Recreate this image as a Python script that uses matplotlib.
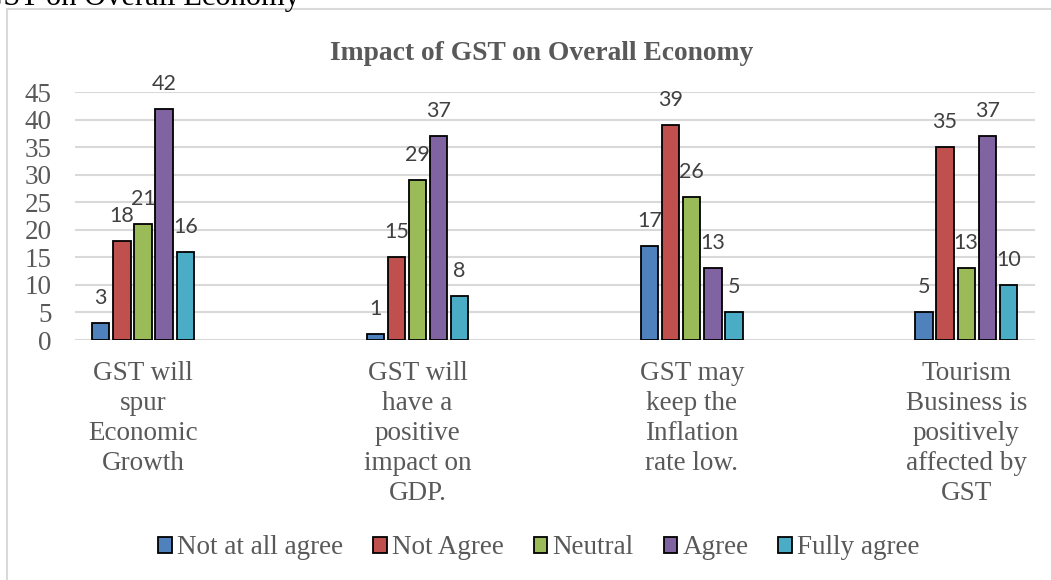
import numpy as np
import matplotlib
matplotlib.use("Agg")
import matplotlib.pyplot as plt
from matplotlib.patches import Patch, Rectangle

# ---------------- data ----------------
categories = ["GST will\nspur\nEconomic\nGrowth",
              "GST will\nhave a\npositive\nimpact on\nGDP.",
              "GST may\nkeep the\nInflation\nrate low.",
              "Tourism\nBusiness is\npositively\naffected by\nGST"]
series_names = ["Not at all agree", "Not Agree", "Neutral", "Agree", "Fully agree"]
not_at_all = [3, 1, 17, 5]
not_agree = [18, 15, 39, 35]
neutral = [21, 29, 26, 13]
agree = [42, 37, 13, 37]
fully_agree = [16, 8, 5, 10]
yticks = [0, 5, 10, 15, 20, 25, 30, 35, 40, 45]

series = [not_at_all, not_agree, neutral, agree, fully_agree]
colors = ["#4F81BD", "#C0504D", "#9BBB59", "#8064A2", "#4BACC6"]

W, H = 1051, 580
gray = "#595959"
serif = "Liberation Serif"
fs = 19.5

fig = plt.figure(figsize=(W / 100, H / 100), dpi=100)

# chart area frame (only left/top visible in the crop)
fig.patches.append(Rectangle((7 / W, -0.1), 1.2, (H - 9) / H + 0.1,
                             transform=fig.transFigure, fill=False,
                             edgecolor="#D9D9D9", linewidth=1.5))

# caption from the page, cut off at the top
fig.text(300 / W, 1 - 5 / H, "Impact of GST on Overall Economy", ha="right",
         va="baseline", fontsize=22, family=serif, color="black")

ax = fig.add_axes([75 / W, (H - 340) / H, (1035 - 75) / W, (340 - 92) / H])

x = np.arange(len(categories))
pitch = 0.0769
width = 0.063
for i, (vals, name, c) in enumerate(zip(series, series_names, colors)):
    pos = x + (i - 2) * pitch
    ax.bar(pos, vals, width, color=c, edgecolor="black", linewidth=1.3,
           label=name, zorder=3)
    for px, v in zip(pos, vals):
        ax.annotate(str(v), (px, v), xytext=(0, 18), textcoords="offset points",
                    ha="center", va="center", fontsize=15.5, family="Lato",
                    color="#404040", annotation_clip=False)

ax.set_xlim(-0.2478, 3.2507)
ax.set_ylim(0, 45)
ax.set_yticks(yticks)
ax.yaxis.grid(True, color="#D9D9D9", linewidth=1.5, zorder=0)
ax.set_axisbelow(True)
for s in ax.spines.values():
    s.set_visible(False)
ax.tick_params(axis="both", length=0)
ax.tick_params(axis="y", pad=17, labelsize=fs, labelcolor=gray)
ax.set_yticklabels([str(t) for t in yticks], family=serif)
ax.set_xticks(x)
ax.set_xticklabels(categories, family=serif, fontsize=fs, color=gray,
                   linespacing=1.27)
ax.tick_params(axis="x", pad=15)

fig.text(542 / W, 1 - 60 / H, "Impact of GST on Overall Economy", ha="center",
         va="baseline", fontsize=19.8, fontweight="bold", family=serif, color=gray)

handles = [Patch(facecolor=c, edgecolor="black", linewidth=1.3) for c in colors]
leg = fig.legend(handles, series_names, loc="center", ncol=5,
                 bbox_to_anchor=(539 / W, 1 - 548 / H), frameon=False,
                 prop={"family": serif, "size": fs}, handlelength=0.5,
                 handleheight=0.5, handletextpad=0.2, columnspacing=1.1,
                 borderpad=0)
for t in leg.get_texts():
    t.set_color(gray)

fig.savefig("out.png", dpi=100)
